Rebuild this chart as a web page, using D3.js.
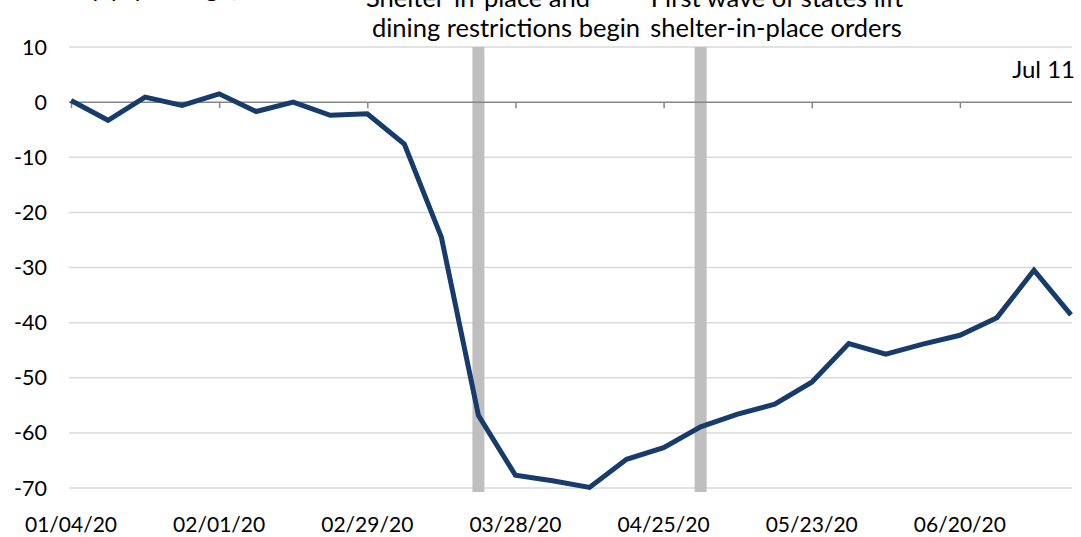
<!DOCTYPE html>
<html>
<head>
<meta charset="utf-8">
<script src="https://cdn.jsdelivr.net/npm/d3@7"></script>
<style>
  body { margin: 0; background: #fff; }
  svg { display: block; font-family: "Source Sans Pro", Lato, sans-serif; }
</style>
</head>
<body>
<div id="chart"></div>
<script>
// weekly y/y change, %
const weeks = ["2020-01-04","2020-01-11","2020-01-18","2020-01-25","2020-02-01","2020-02-08","2020-02-15",
  "2020-02-22","2020-02-29","2020-03-07","2020-03-14","2020-03-21","2020-03-28","2020-04-04",
  "2020-04-11","2020-04-18","2020-04-25","2020-05-02","2020-05-09","2020-05-16","2020-05-23",
  "2020-05-30","2020-06-06","2020-06-13","2020-06-20","2020-06-27","2020-07-04","2020-07-11"];
const values = [0.3, -3.3, 0.9, -0.6, 1.5, -1.7, 0.0, -2.4, -2.1, -7.6, -24.5, -56.8, -67.7, -68.7,
  -69.9, -64.8, -62.7, -58.9, -56.6, -54.8, -50.8, -43.8, -45.7, -43.9, -42.3, -39.1, -30.5, -38.6];
const tickDates = ["2020-01-04","2020-02-01","2020-02-29","2020-03-28","2020-04-25","2020-05-23","2020-06-20"];
const yTicks = [10, 0, -10, -20, -30, -40, -50, -60, -70];
const events = [
  {date: "2020-03-21", lines: ["Shelter-in-place and", "dining restrictions begin"]},
  {date: "2020-05-02", lines: ["First wave of states lift", "shelter-in-place orders"]}
];

const width = 1081, height = 537;
const margin = {top: 47, right: 10, bottom: 49, left: 71};
const parse = d3.timeParse("%Y-%m-%d");
const fmt = d3.timeFormat("%m/%d/%y");

const data = weeks.map((w, i) => ({date: parse(w), value: values[i]}));

const svg = d3.select('#chart').append('svg')
    .attr('width', width)
    .attr('height', height);

const x = d3.scaleTime()
    .domain(d3.extent(data, d => d.date))
    .range([margin.left, width - margin.right]);

const y = d3.scaleLinear()
    .domain([-70, 10])
    .range([height - margin.bottom, margin.top]);

// gridlines
svg.append('g')
  .selectAll('line')
  .data(yTicks.filter(d => d !== 0))
  .join('line')
    .attr('x1', margin.left - 2)
    .attr('x2', width - 9)
    .attr('y1', d => y(d))
    .attr('y2', d => y(d))
    .attr('stroke', '#d9d9d9')
    .attr('stroke-width', 1.5);

// y labels
svg.append('g')
  .selectAll('text')
  .data(yTicks)
  .join('text')
    .attr('x', 47)
    .attr('y', d => y(d))
    .attr('dy', '0.35em')
    .attr('text-anchor', 'end')
    .attr('font-size', 21.5)
    .attr('fill', '#000')
    .text(d => d);

// event bars
svg.append('g')
  .selectAll('rect')
  .data(events)
  .join('rect')
    .attr('x', d => x(parse(d.date)) - 6)
    .attr('y', y(10))
    .attr('width', 12)
    .attr('height', y(-70) - y(10) + 4)
    .attr('fill', '#bfbfbf');

// zero line with ticks
const xAxis = d3.axisBottom(x)
    .tickValues(tickDates.map(parse))
    .tickSize(6)
    .tickFormat('');
svg.append('g')
    .attr('transform', `translate(0,${y(0)})`)
    .call(xAxis)
    .call(g => g.select('.domain')
        .attr('d', `M${margin.left - 2},0H${width - 9}`)
        .attr('stroke', '#868686')
        .attr('stroke-width', 1.5))
    .call(g => g.selectAll('.tick line').attr('stroke', '#868686').attr('stroke-width', 1.5));

// x labels along the bottom
svg.append('g')
  .selectAll('text')
  .data(tickDates.map(parse))
  .join('text')
    .attr('x', d => x(d))
    .attr('y', 532)
    .attr('text-anchor', 'middle')
    .attr('font-size', 21)
    .attr('fill', '#000')
    .text(d => fmt(d));

// series line
svg.append('path')
    .datum(data)
    .attr('fill', 'none')
    .attr('stroke', '#173c6c')
    .attr('stroke-width', 5)
    .attr('stroke-linejoin', 'miter')
    .attr('d', d3.line().x(d => x(d.date)).y(d => y(d.value)));

// annotations (top lines run off the top edge, as in the source)
svg.append('text')
    .attr('x', 20).attr('y', -3)
    .attr('font-size', 25.5)
    .text('Weekly y/y change, %');

svg.append('text').attr('x', 478).attr('y', 7).attr('text-anchor', 'middle')
    .attr('font-size', 25.5).text(events[0].lines[0]);
svg.append('text').attr('x', 640).attr('y', 37).attr('text-anchor', 'end')
    .attr('font-size', 25.5).text(events[0].lines[1]);
svg.append('text').attr('x', 777).attr('y', 7).attr('text-anchor', 'middle')
    .attr('font-size', 25.5).text(events[1].lines[0]);
svg.append('text').attr('x', 776).attr('y', 37).attr('text-anchor', 'middle')
    .attr('font-size', 25.5).text(events[1].lines[1]);

svg.append('text')
    .attr('x', 1075).attr('y', 78)
    .attr('text-anchor', 'end')
    .attr('font-size', 24)
    .text('Jul 11');
</script>
</body>
</html>
